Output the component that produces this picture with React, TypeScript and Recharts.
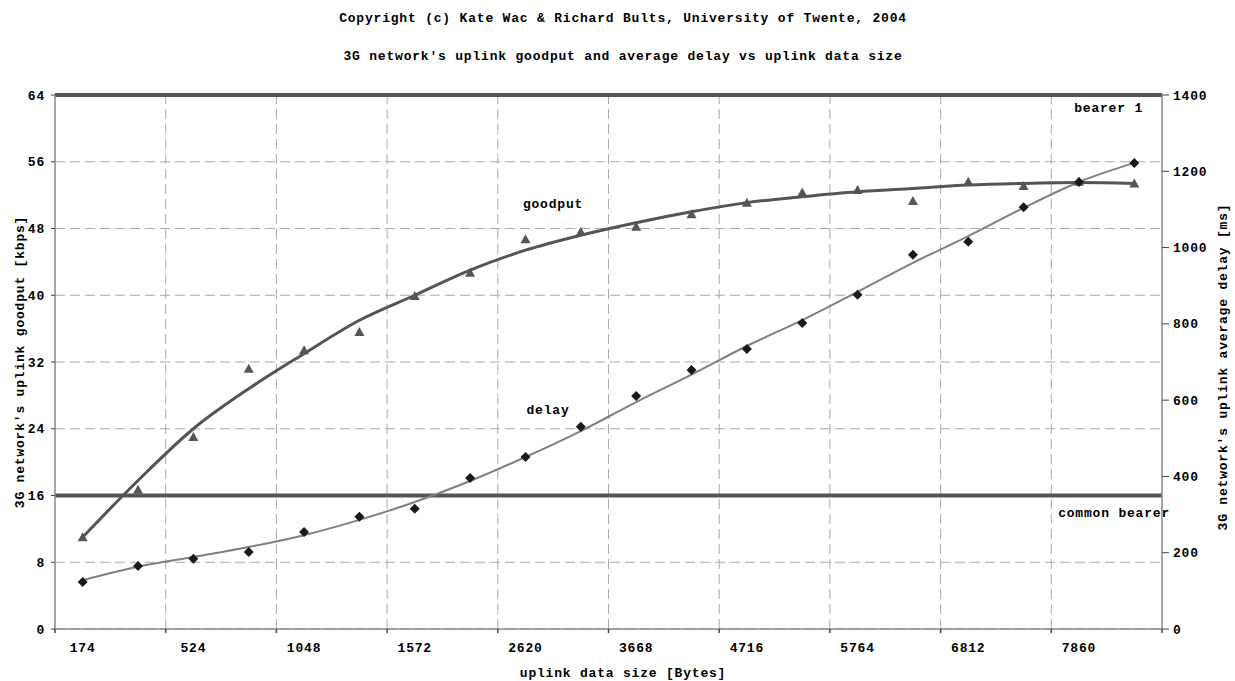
import React from "react";
import { LineChart, Line, XAxis, YAxis, CartesianGrid, ReferenceLine } from "recharts";

// uplink data size [Bytes] per category (only every other one is labelled)
const sizeLabels = [174, 349, 524, 786, 1048, 1310, 1572, 2096, 2620, 3144, 3668, 4192, 4716, 5240, 5764, 6288, 6812, 7336, 7860, 8384];

// measured goodput [kbps] and its trend line
const goodput = [11.0, 16.7, 23.0, 31.2, 33.4, 35.6, 39.9, 42.7, 46.7, 47.6, 48.2, 49.7, 51.1, 52.3, 52.6, 51.3, 53.6, 53.1, 53.6, 53.4];
const goodputTrend = [11.0, 17.8, 24.0, 28.8, 33.0, 37.0, 40.0, 43.0, 45.4, 47.2, 48.7, 50.0, 51.1, 51.8, 52.4, 52.8, 53.2, 53.4, 53.5, 53.4];

// measured average delay [ms] and its trend line
const delay = [123, 165, 184, 202, 254, 294, 315, 396, 451, 530, 611, 679, 734, 802, 876, 981, 1015, 1106, 1172, 1222];
const delayTrend = [128, 163, 189, 215, 246, 286, 333, 388, 451, 519, 595, 667, 742, 810, 884, 960, 1030, 1104, 1172, 1222];

const goodputTicks = [0, 8, 16, 24, 32, 40, 48, 56, 64];
const delayTicks = [0, 200, 400, 600, 800, 1000, 1200, 1400];
const labelledIdx = [0, 2, 4, 6, 8, 10, 12, 14, 16, 18];
const boundaryIdx = [-0.5, 1.5, 3.5, 5.5, 7.5, 9.5, 11.5, 13.5, 15.5, 17.5, 19.5];
const innerBoundaries = [1.5, 3.5, 5.5, 7.5, 9.5, 11.5, 13.5, 15.5, 17.5];

const bearer1 = 64;
const commonBearer = 16;

const data = sizeLabels.map((size, i) => ({
  i,
  size,
  goodput: goodput[i],
  goodputTrend: goodputTrend[i],
  delay: delay[i],
  delayTrend: delayTrend[i],
}));

const MONO = "'Liberation Mono', 'Courier New', monospace";
const textStyle: React.CSSProperties = {
  fontFamily: MONO,
  fontSize: 13,
  fontWeight: 700,
  letterSpacing: 0.8,
  fill: "#000",
};

const X_TICK_SIZE = 4;
const X_TICK_MARGIN = 10;

const XTick = (props: any) => {
  const { x, y, payload } = props;
  const v = payload.value;
  if (Number.isInteger(v)) {
    return (
      <text x={x} y={y} dy="0.71em" textAnchor="middle" style={textStyle}>
        {sizeLabels[v]}
      </text>
    );
  }
  const axisY = y - X_TICK_SIZE - X_TICK_MARGIN;
  return <line x1={x} x2={x} y1={axisY} y2={axisY + X_TICK_SIZE} stroke="#444" strokeWidth={1.5} />;
};

const Triangle = (props: any) => {
  const { cx, cy, index } = props;
  if (cx == null || cy == null) return <g key={`t${index}`} />;
  return (
    <polygon
      key={`t${index}`}
      points={`${cx},${cy - 5} ${cx + 5},${cy + 4} ${cx - 5},${cy + 4}`}
      fill="#555"
    />
  );
};

const Diamond = (props: any) => {
  const { cx, cy, index } = props;
  if (cx == null || cy == null) return <g key={`d${index}`} />;
  return (
    <polygon
      key={`d${index}`}
      points={`${cx},${cy - 5} ${cx + 5},${cy} ${cx},${cy + 5} ${cx - 5},${cy}`}
      fill="#1a1a1a"
    />
  );
};

export default function App() {
  return (
    <div
      style={{
        position: "absolute",
        left: 0,
        top: 0,
        width: 1235,
        height: 681,
        background: "#fff",
        fontFamily: MONO,
      }}
    >
      <LineChart
        width={1235}
        height={681}
        data={data}
        margin={{ top: 95, right: 13, left: 15, bottom: 22 }}
      >
        <CartesianGrid
          yAxisId="left"
          vertical={false}
          stroke="#aaa"
          strokeDasharray="10 5"
        />
        {innerBoundaries.map((b) => (
          <ReferenceLine
            key={b}
            x={b}
            yAxisId="left"
            stroke="#aaa"
            strokeDasharray="10 5"
          />
        ))}
        <XAxis
          dataKey="i"
          type="number"
          domain={[-0.5, 19.5]}
          ticks={[...boundaryIdx, ...labelledIdx].sort((a, b) => a - b)}
          interval={0}
          tick={<XTick />}
          tickLine={false}
          tickSize={X_TICK_SIZE}
          tickMargin={X_TICK_MARGIN}
          axisLine={{ stroke: "#888", strokeWidth: 1.5 }}
          height={30}
        />
        <YAxis
          yAxisId="left"
          domain={[0, 64]}
          ticks={goodputTicks}
          interval={0}
          width={40}
          tickSize={4}
          tickMargin={6}
          tick={textStyle}
          tickLine={{ stroke: "#444" }}
          axisLine={{ stroke: "#888", strokeWidth: 1.5 }}
        />
        <YAxis
          yAxisId="right"
          orientation="right"
          domain={[0, 1400]}
          ticks={delayTicks}
          interval={0}
          width={60}
          tickSize={7}
          tickMargin={4}
          tick={textStyle}
          tickLine={{ stroke: "#444" }}
          axisLine={{ stroke: "#888", strokeWidth: 1.5 }}
        />
        <ReferenceLine
          y={bearer1}
          yAxisId="left"
          stroke="#555"
          strokeWidth={4}
          label={{
            content: (p: any) => {
              const vb = p.viewBox || {};
              return (
                <text
                  x={(vb.x ?? 0) + (vb.width ?? 0) - 19}
                  y={(vb.y ?? 0) + 17}
                  textAnchor="end"
                  style={textStyle}
                >
                  bearer 1
                </text>
              );
            },
          }}
        />
        <ReferenceLine
          y={commonBearer}
          yAxisId="left"
          stroke="#555"
          strokeWidth={4}
          label={{
            content: (p: any) => {
              const vb = p.viewBox || {};
              return (
                <text
                  x={(vb.x ?? 0) + (vb.width ?? 0) + 8}
                  y={(vb.y ?? 0) + 21}
                  textAnchor="end"
                  style={textStyle}
                >
                  common bearer
                </text>
              );
            },
          }}
        />
        <Line
          yAxisId="right"
          dataKey="delayTrend"
          type="monotone"
          stroke="#808080"
          strokeWidth={2}
          dot={false}
          activeDot={false}
          isAnimationActive={false}
        />
        <Line
          yAxisId="left"
          dataKey="goodputTrend"
          type="monotone"
          stroke="#555"
          strokeWidth={3}
          dot={false}
          activeDot={false}
          isAnimationActive={false}
        />
        <Line
          yAxisId="left"
          dataKey="goodput"
          stroke="none"
          dot={<Triangle />}
          activeDot={false}
          isAnimationActive={false}
        />
        <Line
          yAxisId="right"
          dataKey="delay"
          stroke="none"
          dot={<Diamond />}
          activeDot={false}
          isAnimationActive={false}
        />
      </LineChart>
      <svg
        width={1235}
        height={681}
        style={{ position: "absolute", left: 0, top: 0, pointerEvents: "none" }}
      >
        <text x={623} y={22} textAnchor="middle" style={textStyle}>
          Copyright (c) Kate Wac &amp; Richard Bults, University of Twente, 2004
        </text>
        <text x={623} y={60} textAnchor="middle" style={textStyle}>
          3G network's uplink goodput and average delay vs uplink data size
        </text>
        <text x={553} y={208} textAnchor="middle" style={textStyle}>
          goodput
        </text>
        <text x={548} y={414} textAnchor="middle" style={textStyle}>
          delay
        </text>
        <text x={623} y={677} textAnchor="middle" style={textStyle}>
          uplink data size [Bytes]
        </text>
        <text
          x={19}
          y={362}
          dy="0.35em"
          textAnchor="middle"
          transform="rotate(-90 19 362)"
          style={textStyle}
        >
          3G network's uplink goodput [kbps]
        </text>
        <text
          x={1222}
          y={367}
          dy="0.35em"
          textAnchor="middle"
          transform="rotate(-90 1222 367)"
          style={textStyle}
        >
          3G network's uplink average delay [ms]
        </text>
      </svg>
    </div>
  );
}
